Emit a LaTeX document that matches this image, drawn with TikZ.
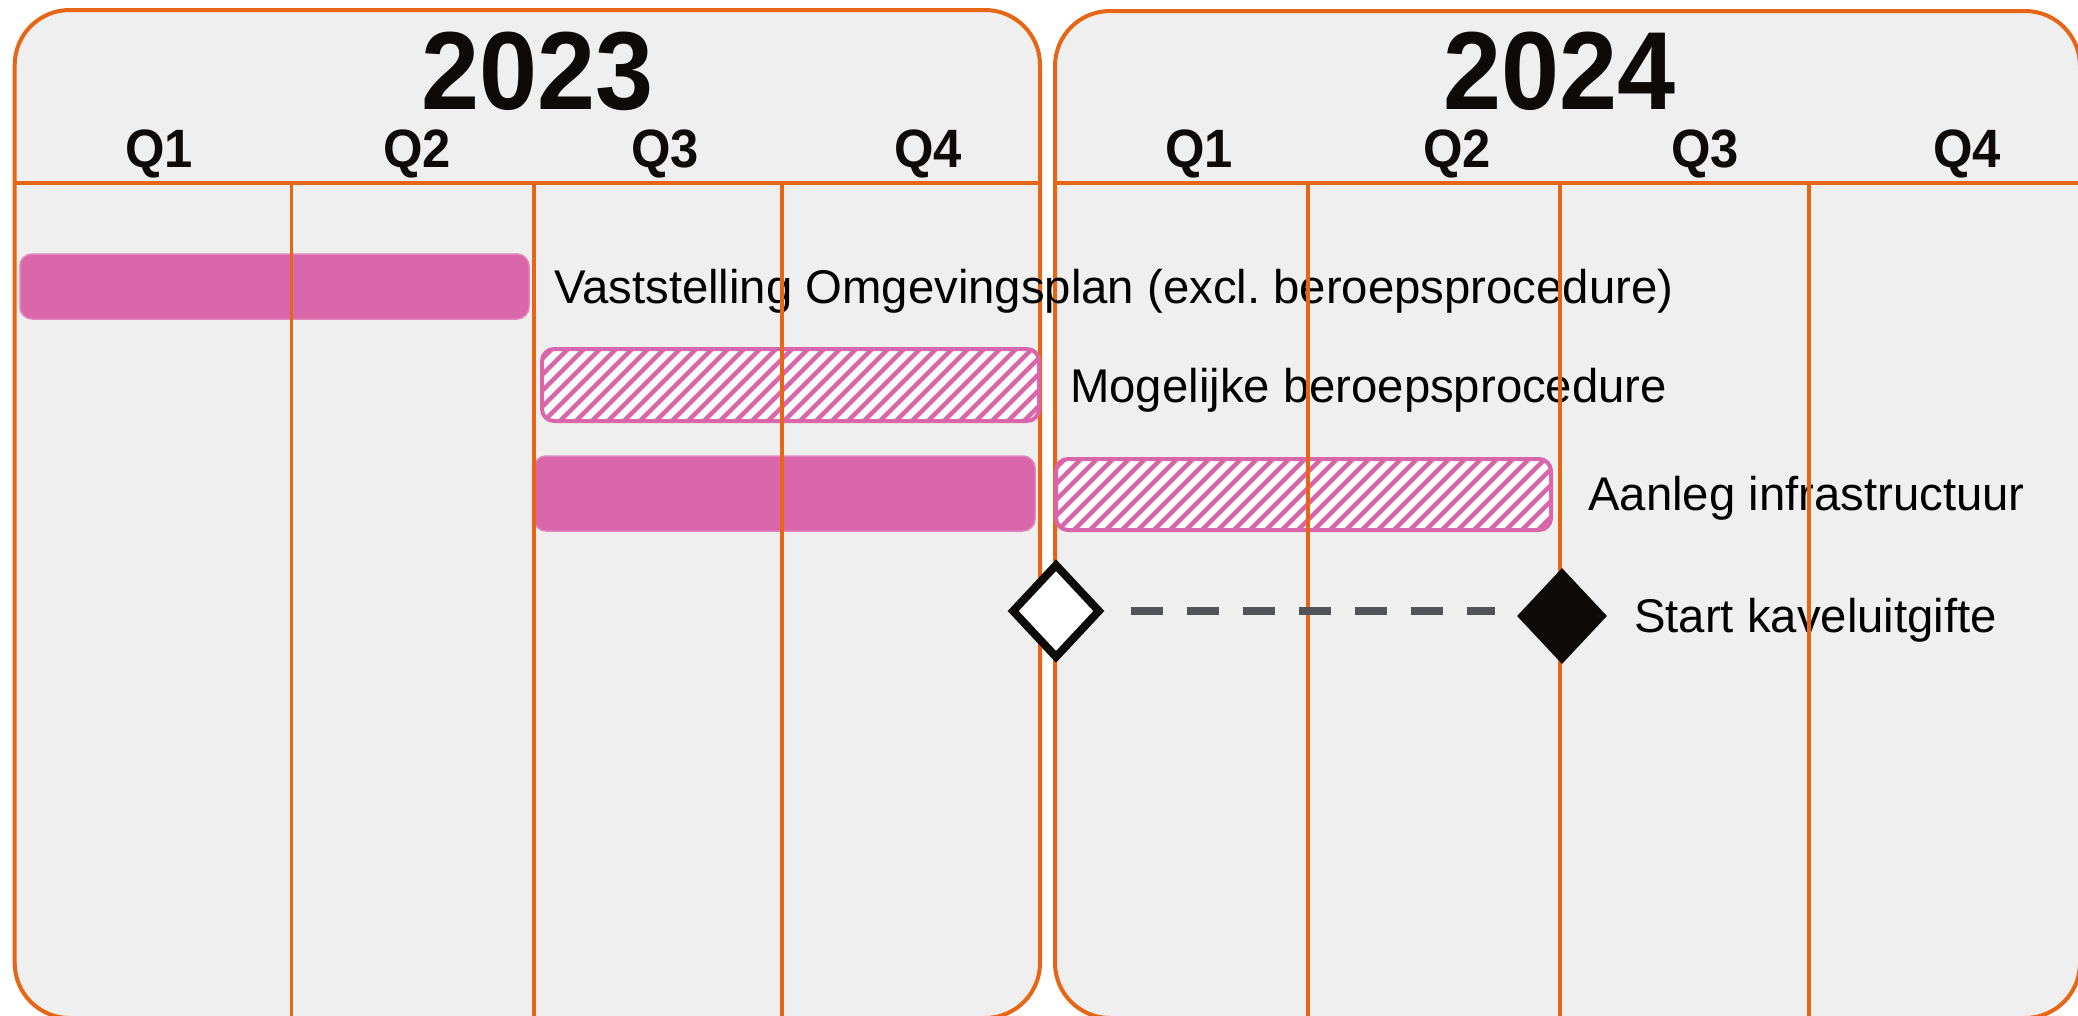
\documentclass[tikz,border=0pt]{standalone}
\usepackage{fontspec}
\setmainfont{Liberation Sans}
\newfontfamily\hdrfont{Liberation Sans Bold}[FakeStretch=0.94]
\usetikzlibrary{shapes.geometric}
\definecolor{orng}{RGB}{231,102,22}
\definecolor{panelgray}{RGB}{239,239,239}
\definecolor{pinkbar}{RGB}{217,102,171}
\definecolor{dashgray}{RGB}{82,84,89}
\definecolor{inkblack}{RGB}{13,10,8}
\frenchspacing
\begin{document}
\begin{tikzpicture}[x=1pt,y=-1pt,
  panel/.style={fill=panelgray, draw=orng, line width=4pt, rounded corners=55pt},
  hdrline/.style={draw=orng, line width=4pt},
  divider/.style={draw=orng, line width=3.5pt},
  barbase/.style={rectangle, inner sep=0pt, outer sep=0pt, rounded corners=12pt, anchor=north west},
  solidbar/.style={barbase, fill=pinkbar, draw=pinkbar!80!white, line width=1.5pt},
  hatchbar/.style={barbase, fill=white, draw=pinkbar, line width=4pt, path picture={
     \foreach \i in {-110,-94,...,530} \draw[pinkbar, line width=4.5pt] ([xshift=\i pt]path picture bounding box.south west) -- ++(120pt,120pt);}},
  tasklabel/.style={anchor=base west, font=\fontsize{47.3}{56}\selectfont, text=black, inner sep=0pt},
  yearlabel/.style={anchor=base, font=\hdrfont\fontsize{111}{120}\selectfont, text=inkblack, inner sep=0pt, text height=80pt, text depth=0pt},
  quarter/.style={anchor=base, font=\hdrfont\fontsize{54}{60}\selectfont, text=inkblack, inner sep=0pt, text height=39pt, text depth=4pt},
  openms/.style={diamond, draw=inkblack, fill=white, line width=8pt, inner sep=0pt, minimum width=89pt, minimum height=95pt},
  fullms/.style={diamond, fill=inkblack, inner sep=0pt, minimum width=90pt, minimum height=96pt},
  dashline/.style={draw=dashgray, line width=8pt, dash pattern=on 32pt off 24pt, shorten <=26pt, shorten >=22pt}
]
\useasboundingbox (0,0) rectangle (2078,1015);
\fill[white] (0,0) rectangle (2078,1015);
\clip (0,0) rectangle (2078,1015);

% panels
\draw[panel] (14.7,10) rectangle (1040,1018);
\draw[panel] (1055,11) rectangle (2080,1018);
\draw[hdrline] (14.7,182.5) -- (1040,182.5);
\draw[hdrline] (1055,182.5) -- (2080,182.5);

% headers
\node[yearlabel] (y2023) at (538,109) {2023};
\node[yearlabel] (y2024) at (1560,109) {2024};
\node[quarter] (q1a) at (159,167) {Q1};
\node[quarter] (q2a) at (417,167) {Q2};
\node[quarter] (q3a) at (665,167) {Q3};
\node[quarter] (q4a) at (928,167) {Q4};
\node[quarter] (q1b) at (1199,167) {Q1};
\node[quarter] (q2b) at (1457,167) {Q2};
\node[quarter] (q3b) at (1705,167) {Q3};
\node[quarter] (q4b) at (1967,167) {Q4};

% bars
\node[solidbar, minimum width=509pt, minimum height=65pt] (bVast) at (20,254) {};
\node[hatchbar, minimum width=497pt, minimum height=72pt] (bMog) at (542,349) {};
\node[solidbar, minimum width=501pt, minimum height=75pt] (bAanlegA) at (534,456) {};
\node[hatchbar, minimum width=495pt, minimum height=71pt] (bAanlegB) at (1056,459) {};

% labels
\node[tasklabel] (tVast) at (554,303) {Vaststelling Omgevingsplan (excl. beroepsprocedure)};
\node[tasklabel] (tMog) at (1070,402) {Mogelijke beroepsprocedure};
\node[tasklabel] (tAanleg) at (1588,510) {Aanleg infrastructuur};
\node[tasklabel] (tStart) at (1634,632) {Start kaveluitgifte};

% quarter dividers
\foreach \x in {291.5,534,782,1308,1560,1809}
  \draw[divider] (\x,182.5) -- (\x,1018);

% milestones
\node[openms] (dOpen) at (1056,611) {};
\node[fullms] (dFull) at (1562,616) {};
\draw[dashline] (dOpen.east) -- (dOpen.east -| dFull.west);
\end{tikzpicture}
\end{document}
